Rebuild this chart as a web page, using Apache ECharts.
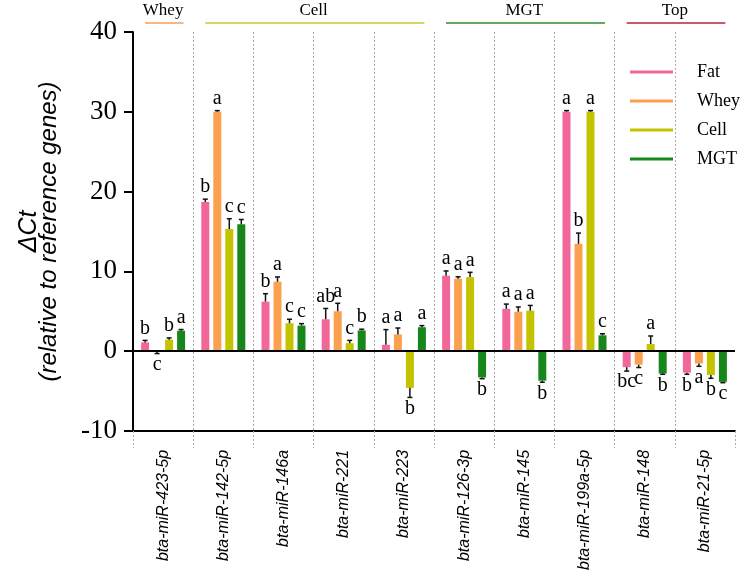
<!DOCTYPE html>
<html>
<head>
<meta charset="utf-8">
<script src="https://cdn.jsdelivr.net/npm/echarts@6/dist/echarts.min.js"></script>
<style>
html,body{margin:0;padding:0;background:#fff;}
#main{width:742px;height:573px;}
</style>
</head>
<body>
<div id="main"></div>
<script>
// ---- data ----
const categories = ['bta-miR-423-5p','bta-miR-142-5p','bta-miR-146a','bta-miR-221','bta-miR-223','bta-miR-126-3p','bta-miR-145','bta-miR-199a-5p','bta-miR-148','bta-miR-21-5p'];
const seriesNames = ['Fat','Whey','Cell','MGT'];

const fatValues  = [1.1, 18.7, 6.2, 4.0, 0.8, 9.45, 5.3, 30, -2.0, -2.7];
const fatErr     = [0.25, 0.35, 1.0, 1.35, 1.9, 0.6, 0.6, 0.15, 0.5, 0.2];
const wheyValues = [-0.05, 30, 8.7, 5.0, 2.1, 9.07, 4.94, 13.45, -1.7, -1.55];
const wheyErr    = [0.25, 0.15, 0.6, 1.0, 0.8, 0.25, 0.6, 1.35, 0.35, 0.35];
const cellValues = [1.44, 15.3, 3.5, 1.0, -4.6, 9.28, 5.07, 30, 0.9, -3.0];
const cellErr    = [0.22, 1.3, 0.5, 0.35, 1.2, 0.6, 0.66, 0.15, 1.0, 0.4];
const mgtValues  = [2.56, 15.9, 3.2, 2.6, 3.0, -3.3, -3.7, 1.98, -2.8, -3.85];
const mgtErr     = [0.15, 0.6, 0.25, 0.15, 0.2, 0.15, 0.2, 0.2, 0.1, 0.1];

const fatSig  = ['b','b','b','ab','a','a','a','a','bc','b'];
const wheySig = ['c','a','a','a','a','a','a','b','c','a'];
const cellSig = ['b','c','c','c','b','a','a','a','a','b'];
const mgtSig  = ['a','c','c','b','a','b','b','c','b','c'];

const yTicks = { min: -10, max: 40, interval: 10 };

const groupNames = ['Whey','Cell','MGT','Top'];
const groupStart = [0, 1, 5, 8];
const groupEnd   = [0, 4, 7, 9];

// ---- styles ----
const colors = ['#F2679A', '#FBA04F', '#C3C300', '#17871B'];
const groupColors = ['#F0A060', '#C8C832', '#2E8B2E', '#B82530'];
const BAR_W = 8;

const allValues = [fatValues, wheyValues, cellValues, mgtValues];
const allErr = [fatErr, wheyErr, cellErr, mgtErr];
const allSig = [fatSig, wheySig, cellSig, mgtSig];

const chart = echarts.init(document.getElementById('main'));

const barSeries = seriesNames.map((name, s) => {
  const o = {
    name: name,
    type: 'bar',
    data: allValues[s],
    barWidth: BAR_W,
    barGap: '50%',
    itemStyle: { color: colors[s] },
    z: 2
  };
  if (s === 0) {
    o.markLine = {
      silent: true,
      symbol: 'none',
      label: { show: false },
      lineStyle: { color: '#000', width: 2, type: 'solid' },
      data: [{ yAxis: 0 }],
      z: 5
    };
  }
  return o;
});

const errSeries = seriesNames.map((name, s) => ({
  type: 'custom',
  name: name + '-err',
  z: 6,
  data: allValues[s].map((v, i) => [i, v, allErr[s][i]]),
  encode: { x: 0, y: 1 },
  renderItem: function (params, api) {
    const i = api.value(0);
    const v = api.value(1);
    const e = api.value(2);
    const offset = (s - 1.5) * BAR_W * 1.5;
    const base = api.coord([i, v]);
    const x = base[0] + offset;
    const end = api.coord([i, v >= 0 ? v + e : v - e]);
    const y0 = base[1], y1 = end[1];
    const letter = allSig[s][i];
    const children = [
      { type: 'line', shape: { x1: x, y1: y0, x2: x, y2: y1 }, style: { stroke: '#111', lineWidth: 1.5 } },
      { type: 'line', shape: { x1: x - 2.5, y1: y1, x2: x + 2.5, y2: y1 }, style: { stroke: '#111', lineWidth: 1.5 } }
    ];
    if (letter) {
      children.push({
        type: 'text',
        style: {
          text: letter,
          x: x,
          y: v >= 0 ? y1 - 2 : y1 + 1,
          align: 'center',
          verticalAlign: v >= 0 ? 'bottom' : 'top',
          font: '20px "Liberation Serif"',
          fill: '#000'
        }
      });
    }
    return { type: 'group', children: children };
  }
}));

chart.setOption({
  animation: false,
  backgroundColor: '#fff',
  grid: { left: 133, right: 7, top: 32, bottom: 141.5, containLabel: false },
  legend: {
    data: seriesNames,
    orient: 'vertical',
    left: 630,
    top: 63,
    padding: 0,
    itemWidth: 43,
    itemHeight: 3,
    itemGap: 11,
    icon: 'rect',
    textStyle: { fontFamily: 'Liberation Serif', fontSize: 18, color: '#000', padding: [0, 0, 0, 19] }
  },
  xAxis: {
    type: 'category',
    data: categories,
    position: 'bottom',
    axisLine: { onZero: false, lineStyle: { color: '#000', width: 2 } },
    axisTick: { show: true, interval: 0, length: 17, lineStyle: { color: '#aaa', type: [2, 2], width: 1 } },
    axisLabel: {
      interval: 0, rotate: 90, margin: 19,
      fontFamily: 'Liberation Sans', fontStyle: 'italic', fontSize: 16, color: '#000'
    },
    splitLine: { show: true, interval: 0, showMinLine: false, showMaxLine: false, lineStyle: { color: '#aaa', type: [2, 2], width: 1 } }
  },
  yAxis: {
    type: 'value',
    min: yTicks.min, max: yTicks.max, interval: yTicks.interval,
    axisLine: { show: true, lineStyle: { color: '#000', width: 2 } },
    axisTick: { show: true, length: 9, lineStyle: { color: '#000', width: 2 } },
    axisLabel: { fontFamily: 'Liberation Serif', fontSize: 27, color: '#000', margin: 16 },
    splitLine: { show: false },
    name: '{a|ΔCt}\n{b|(relative to reference genes)}',
    nameLocation: 'middle',
    nameGap: 74,
    nameTextStyle: {
      rich: {
        a: { fontFamily: 'Liberation Sans', fontStyle: 'italic', fontSize: 25, lineHeight: 20, color: '#000' },
        b: { fontFamily: 'Liberation Sans', fontStyle: 'italic', fontSize: 24, lineHeight: 20, color: '#000' }
      }
    }
  },
  series: barSeries.concat(errSeries)
});

// group labels on top, positioned from category scale
const catW = chart.convertToPixel({ xAxisIndex: 0 }, 1) - chart.convertToPixel({ xAxisIndex: 0 }, 0);
const graphics = [];
groupNames.forEach((g, k) => {
  const left = chart.convertToPixel({ xAxisIndex: 0 }, groupStart[k]) - catW / 2;
  const right = chart.convertToPixel({ xAxisIndex: 0 }, groupEnd[k]) + catW / 2;
  graphics.push({
    type: 'line',
    shape: { x1: left + 0.2 * catW, y1: 23, x2: right - 0.16 * catW, y2: 23 },
    style: { stroke: groupColors[k], lineWidth: 1.5 }
  });
  graphics.push({
    type: 'text',
    style: {
      text: g, x: (left + right) / 2, y: 11, align: 'center', verticalAlign: 'middle',
      font: '17px "Liberation Serif"', fill: '#000'
    }
  });
});
chart.setOption({ graphic: graphics });
</script>
</body>
</html>
